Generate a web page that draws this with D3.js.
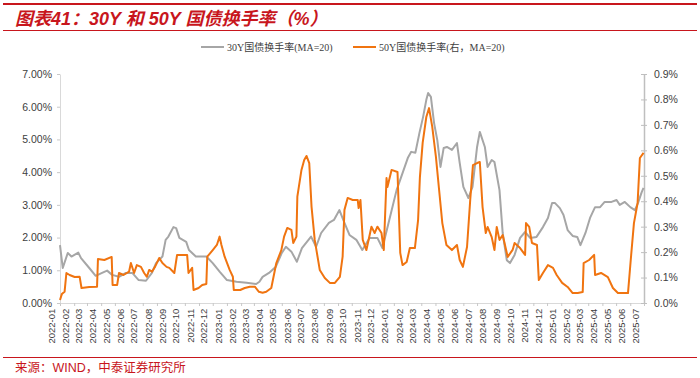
<!DOCTYPE html>
<html>
<head>
<meta charset="utf-8">
<script src="https://cdn.jsdelivr.net/npm/d3@7"></script>
<style>
  body { margin: 0; background: #fff; }
  svg { display: block; }
</style>
</head>
<body>
<div id="canvas"></div>
<script>
// 30Y turnover (left axis, %)
var dates30 = ['2022-01-01','2022-01-07','2022-01-18','2022-01-26','2022-02-10','2022-02-16','2022-03-06','2022-03-20',
  '2022-04-03','2022-04-14','2022-04-25','2022-05-10','2022-05-25','2022-06-08','2022-06-22','2022-07-08','2022-07-21',
  '2022-07-30','2022-08-13','2022-08-20','2022-08-26','2022-09-06','2022-09-12','2022-09-19','2022-10-04','2022-10-10',
  '2022-10-25','2022-11-17','2022-12-01','2022-12-16','2023-01-01','2023-01-22','2023-02-13','2023-03-06','2023-03-13',
  '2023-03-20','2023-04-03','2023-04-18','2023-05-01','2023-05-10','2023-05-22','2023-06-03','2023-06-14','2023-07-04',
  '2023-07-15','2023-07-26','2023-08-12','2023-08-23','2023-09-04','2023-09-15','2023-09-26','2023-10-11','2023-10-24',
  '2023-11-09','2023-11-26','2023-12-07','2023-12-22','2024-01-07','2024-01-20','2024-02-01','2024-02-08','2024-02-17',
  '2024-02-26','2024-03-05','2024-03-12','2024-03-16','2024-03-22','2024-03-29','2024-04-05','2024-04-12','2024-04-19',
  '2024-04-26','2024-05-07','2024-05-18','2024-05-24','2024-06-01','2024-06-12','2024-06-21','2024-07-01','2024-07-07',
  '2024-07-18','2024-07-24','2024-08-02','2024-08-08','2024-08-19','2024-08-26','2024-09-04','2024-09-11','2024-09-21',
  '2024-10-03','2024-10-14','2024-10-25','2024-11-08','2024-11-22','2024-12-03','2024-12-12','2024-12-18','2024-12-29',
  '2025-01-06','2025-01-15','2025-01-26','2025-02-05','2025-02-12','2025-02-23','2025-03-05','2025-03-16','2025-03-27',
  '2025-04-06','2025-04-21','2025-05-02','2025-05-09','2025-05-20','2025-06-01','2025-06-11','2025-06-18','2025-06-26',
  '2025-06-30'];
var values30 = [1.77,1.07,1.53,1.42,1.54,1.37,1.07,0.83,
  0.92,0.99,0.86,0.80,0.92,0.92,0.70,0.68,0.92,
  1.22,1.42,1.93,2.03,2.32,2.29,1.99,1.87,1.62,
  1.42,1.42,1.22,0.96,0.70,0.65,0.62,0.58,0.65,
  0.80,0.92,1.11,1.53,1.72,1.57,1.26,1.68,2.03,
  1.72,2.14,2.45,2.54,2.84,2.45,2.08,1.93,1.62,
  1.99,1.99,1.68,2.54,3.45,3.97,4.45,4.62,4.59,
  5.20,5.69,6.21,6.42,6.30,5.50,4.98,4.16,4.74,
  4.77,4.68,4.89,4.28,3.55,3.21,3.55,4.77,5.23,
  4.77,4.16,4.37,4.31,3.45,2.14,1.31,1.22,1.47,
  1.99,2.17,1.99,2.02,2.32,2.60,3.06,3.06,2.90,
  2.69,2.23,2.05,2.02,1.77,2.14,2.60,2.93,2.93,
  3.09,3.09,3.15,3.00,3.09,2.93,2.84,3.06,3.39,
  3.52];

// 50Y turnover (right axis, %)
var dates50 = ['2022-01-01','2022-01-05','2022-01-11','2022-01-15','2022-01-22','2022-02-02','2022-02-13','2022-02-17',
  '2022-03-06','2022-03-23','2022-03-25','2022-04-08','2022-04-24','2022-04-26','2022-05-06','2022-05-10','2022-05-20',
  '2022-06-01','2022-06-05','2022-06-12','2022-06-18','2022-06-27','2022-07-04','2022-07-10','2022-07-15','2022-07-21',
  '2022-07-28','2022-08-06','2022-08-13','2022-08-22','2022-08-28','2022-09-08','2022-09-14','2022-09-25','2022-10-06',
  '2022-10-09','2022-10-17','2022-10-20','2022-10-31','2022-11-08','2022-11-17','2022-11-19','2022-12-01','2022-12-10',
  '2022-12-16','2022-12-20','2022-12-27','2023-01-07','2023-01-14','2023-01-16','2023-01-30','2023-02-09','2023-02-20',
  '2023-03-03','2023-03-12','2023-03-20','2023-03-28','2023-04-08','2023-04-19','2023-04-30','2023-05-06','2023-05-13',
  '2023-05-22','2023-05-26','2023-06-02','2023-06-04','2023-06-13','2023-06-19','2023-06-24','2023-06-30','2023-07-05',
  '2023-07-12','2023-07-23','2023-08-03','2023-08-14','2023-08-25','2023-09-05','2023-09-11','2023-09-15','2023-09-22',
  '2023-10-03','2023-10-14','2023-10-16','2023-10-20','2023-10-25','2023-11-02','2023-11-13','2023-11-20','2023-11-26',
  '2023-12-05','2023-12-10','2023-12-16','2023-12-18','2023-12-27','2024-01-09','2024-01-15','2024-01-20','2024-01-29',
  '2024-02-05','2024-02-16','2024-02-23','2024-02-27','2024-03-04','2024-03-12','2024-03-18','2024-03-25','2024-04-02',
  '2024-04-09','2024-04-16','2024-04-25','2024-05-07','2024-05-18','2024-05-24','2024-05-31','2024-06-09','2024-06-16',
  '2024-06-22','2024-07-01','2024-07-07','2024-07-13','2024-07-20','2024-07-24','2024-08-02','2024-08-08','2024-08-13',
  '2024-08-19','2024-08-26','2024-09-06','2024-09-17','2024-09-21','2024-10-03','2024-10-14','2024-10-16','2024-10-23',
  '2024-10-29','2024-11-09','2024-11-13','2024-11-22','2024-12-03','2024-12-14','2024-12-22','2025-01-03','2025-01-15',
  '2025-01-26','2025-02-06','2025-02-17','2025-02-19','2025-03-03','2025-03-14','2025-03-16','2025-03-29','2025-04-13',
  '2025-04-24','2025-05-05','2025-05-23','2025-05-27','2025-06-02','2025-06-09','2025-06-17','2025-06-22','2025-06-30'];
var values50 = [0.012,0.035,0.044,0.118,0.110,0.102,0.103,0.059,
  0.063,0.064,0.173,0.169,0.181,0.071,0.071,0.118,0.110,
  0.123,0.157,0.118,0.149,0.142,0.118,0.103,0.130,0.123,
  0.143,0.177,0.157,0.142,0.138,0.118,0.189,0.189,0.189,
  0.118,0.138,0.051,0.059,0.071,0.075,0.182,0.208,0.228,
  0.261,0.228,0.182,0.130,0.103,0.051,0.051,0.059,0.064,
  0.064,0.044,0.040,0.044,0.059,0.157,0.208,0.261,0.295,
  0.287,0.236,0.261,0.418,0.523,0.562,0.578,0.550,0.379,
  0.248,0.130,0.098,0.079,0.079,0.103,0.182,0.366,0.413,
  0.405,0.405,0.373,0.405,0.248,0.208,0.300,0.275,0.300,
  0.275,0.208,0.491,0.456,0.523,0.515,0.197,0.149,0.161,
  0.216,0.216,0.326,0.495,0.629,0.731,0.766,0.692,0.574,
  0.444,0.314,0.228,0.208,0.228,0.169,0.142,0.220,0.405,
  0.542,0.550,0.554,0.377,0.275,0.299,0.259,0.208,0.299,
  0.248,0.267,0.181,0.210,0.236,0.216,0.189,0.314,0.299,
  0.236,0.228,0.090,0.118,0.149,0.138,0.110,0.079,0.063,
  0.039,0.039,0.043,0.157,0.169,0.189,0.110,0.118,0.102,
  0.059,0.039,0.039,0.039,0.169,0.314,0.393,0.570,0.590];

var leftTicks = [0, 1, 2, 3, 4, 5, 6, 7];
var rightTicks = [0, 0.1, 0.2, 0.3, 0.4, 0.5, 0.6, 0.7, 0.8, 0.9];
var seriesNames = ['30Y国债换手率(MA=20)', '50Y国债换手率(右，MA=20)'];
var titleText = '图表41：30Y 和 50Y 国债换手率（%）';
var sourceText = '来源：WIND，中泰证券研究所';

var red = '#C8161D';
var grey = '#A6A6A6';
var orange = '#F07410';
var parse = d3.timeParse('%Y-%m-%d');

var svg = d3.select('#canvas').append('svg')
    .attr('width', 700)
    .attr('height', 378);

// header / footer rules
svg.append('line').attr('x1', 3).attr('x2', 697).attr('y1', 4).attr('y2', 4)
    .attr('stroke', red).attr('stroke-width', 2);
svg.append('line').attr('x1', 3).attr('x2', 697).attr('y1', 30.5).attr('y2', 30.5)
    .attr('stroke', red).attr('stroke-width', 1.2);
svg.append('line').attr('x1', 3).attr('x2', 697).attr('y1', 357.5).attr('y2', 357.5)
    .attr('stroke', red).attr('stroke-width', 1.2);

svg.append('text')
    .attr('x', 15).attr('y', 25)
    .attr('fill', red)
    .attr('font-family', 'Liberation Sans, Noto Sans CJK SC, sans-serif')
    .attr('font-size', 18)
    .attr('font-weight', 'bold')
    .attr('font-style', 'italic')
    .text(titleText);

svg.append('text')
    .attr('x', 15).attr('y', 372)
    .attr('fill', red)
    .attr('font-family', 'Liberation Sans, Noto Sans CJK SC, sans-serif')
    .attr('font-size', 12.5)
    .text(sourceText);

var x = d3.scaleTime()
    .domain([parse('2022-01-01'), parse('2025-07-01')])
    .range([60, 644]);
var yL = d3.scaleLinear().domain([0, 7]).range([303, 74]);
var yR = d3.scaleLinear().domain([0, 0.9]).range([303, 74]);

var axisFont = 'Liberation Sans, Arial, sans-serif';

// x axis
var xAxis = svg.append('g')
    .attr('transform', 'translate(0,303)')
    .call(d3.axisBottom(x)
        .ticks(d3.timeMonth.every(1))
        .tickFormat(d3.timeFormat('%Y-%m'))
        .tickSizeInner(3)
        .tickSizeOuter(0));
xAxis.select('.domain').attr('stroke', '#D9D9D9');
xAxis.selectAll('.tick line').attr('stroke', '#C8C8C8');
xAxis.selectAll('text')
    .attr('font-family', axisFont)
    .attr('font-size', 9.5)
    .attr('fill', '#404040')
    .attr('transform', 'rotate(-90)')
    .attr('text-anchor', 'end')
    .attr('dx', '-0.6em')
    .attr('dy', '-0.62em')
    .attr('x', 0).attr('y', 0);

// left axis
var leftAxis = svg.append('g')
    .attr('transform', 'translate(60,0)')
    .call(d3.axisLeft(yL)
        .tickValues(leftTicks)
        .tickFormat(function(d) { return d.toFixed(2) + '%'; })
        .tickSizeInner(3)
        .tickSizeOuter(0)
        .tickPadding(5));
leftAxis.select('.domain').attr('stroke', '#D9D9D9');
leftAxis.selectAll('.tick line').attr('stroke', '#C8C8C8');
leftAxis.selectAll('text')
    .attr('font-family', axisFont)
    .attr('font-size', 10.5)
    .attr('fill', '#404040');

// right axis
var rightAxis = svg.append('g')
    .attr('transform', 'translate(644,0)')
    .call(d3.axisRight(yR)
        .tickValues(rightTicks)
        .tickFormat(function(d) { return d.toFixed(1) + '%'; })
        .tickSizeInner(3)
        .tickSizeOuter(0)
        .tickPadding(7));
rightAxis.select('.domain').attr('stroke', '#BFBFBF').attr('stroke-width', 1.5);
rightAxis.selectAll('.tick line').attr('stroke', '#BFBFBF').attr('x1', -3);
rightAxis.selectAll('text')
    .attr('font-family', axisFont)
    .attr('font-size', 10.5)
    .attr('fill', '#404040');

// lines
var line30 = d3.line()
    .x(function(d, i) { return x(parse(dates30[i])); })
    .y(function(d) { return yL(d); });
var line50 = d3.line()
    .x(function(d, i) { return x(parse(dates50[i])); })
    .y(function(d) { return yR(d); });

svg.append('path')
    .datum(values30)
    .attr('d', line30)
    .attr('fill', 'none')
    .attr('stroke', grey)
    .attr('stroke-width', 2)
    .attr('stroke-linejoin', 'round');

svg.append('path')
    .datum(values50)
    .attr('d', line50)
    .attr('fill', 'none')
    .attr('stroke', orange)
    .attr('stroke-width', 2)
    .attr('stroke-linejoin', 'round');

// legend
var legend = svg.append('g').attr('transform', 'translate(0,47)');
var legendItems = [
    { name: seriesNames[0], color: grey, x: 201 },
    { name: seriesNames[1], color: orange, x: 353 }
];
legendItems.forEach(function(item) {
    legend.append('line')
        .attr('x1', item.x).attr('x2', item.x + 23)
        .attr('y1', 0).attr('y2', 0)
        .attr('stroke', item.color)
        .attr('stroke-width', 2);
    legend.append('text')
        .attr('x', item.x + 26).attr('y', 3.5)
        .attr('font-family', 'Liberation Serif, Noto Sans CJK SC, serif')
        .attr('font-size', 10)
        .attr('fill', '#404040')
        .text(item.name);
});
</script>
</body>
</html>
